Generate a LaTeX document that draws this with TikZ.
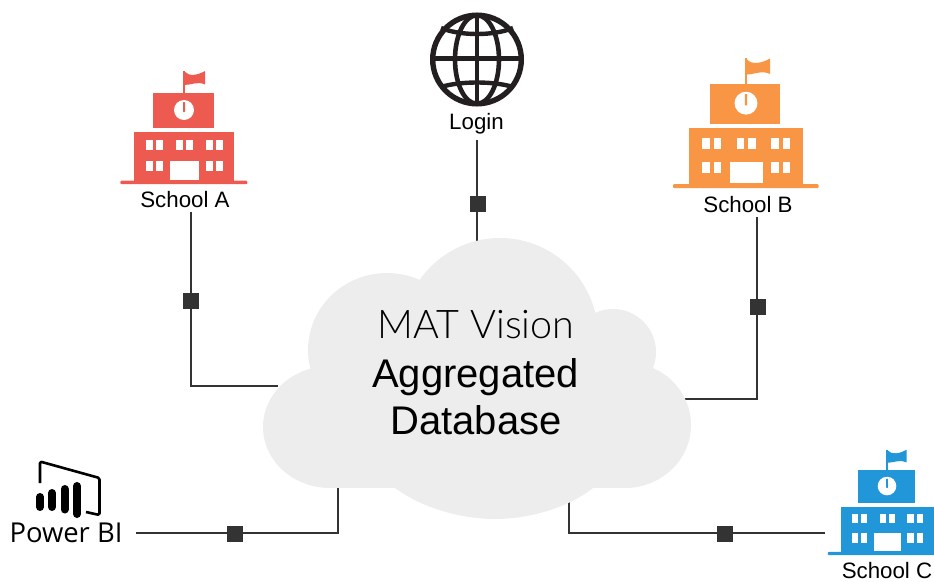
\documentclass[tikz,border=0pt]{standalone}
\usepackage{fontspec}
\setmainfont{Liberation Sans}
\newfontfamily\lightfont{Lato Light}
\newfontfamily\pbifont{Open Sans}
\definecolor{schoolA}{HTML}{EC5A50}
\definecolor{schoolB}{HTML}{F99645}
\definecolor{schoolC}{HTML}{2196D8}
\definecolor{cloudgrey}{HTML}{EDEDED}
\definecolor{linedark}{HTML}{333333}
\definecolor{globeink}{HTML}{231F20}
\tikzset{
  link/.style={draw=linedark,line width=2.7pt},
  stopmark/.style={fill=linedark,draw=none,minimum size=16pt,inner sep=0pt,rectangle},
  lobe/.style={fill=cloudgrey,draw=none},
  caption/.style={anchor=base,font=\fontsize{22.3}{24}\selectfont,text=black,inner sep=0pt},
  cloudtext/.style={anchor=base,text=black,inner sep=0pt},
}
\newcommand{\schoolpic}[4]{%
  \begin{scope}[shift={(#1,#2)},x=#3pt,y=-#3pt]
    \fill[#4,rounded corners=1pt] (-63.7,-1.3) rectangle (63.3,2.2);
    \fill[#4] (-50,-50) rectangle (50,0);
    \fill[#4] (-31,-89) rectangle (30,-54);
    \fill[#4] (-1.2,-111) rectangle (0.8,-88);
    \fill[#4] (0.5,-110.5) .. controls (5,-105) and (14,-107) .. (21,-111) -- (21,-97.5) .. controls (14,-101) and (7,-97) .. (0.5,-97) -- cycle;
    \fill[white] (0,-72) circle (10);
    \fill[#4,rounded corners=0.6pt] (-1,-80) rectangle (1,-70);
    \foreach \wx/\wy in {-38/-42,-28/-42,-8/-42,2/-42,22/-42,32/-42,-38/-21,-28/-21,22/-21,32/-21}
      \fill[white] (\wx,\wy) rectangle ++(6.6,10);
    \fill[white] (-14,-21) rectangle (15,-2);
  \end{scope}}
\begin{document}
\begin{tikzpicture}[x=1pt,y=-1pt]
\useasboundingbox (0,0) rectangle (934,581);
% anchors
\coordinate (cloudA) at (278,386);
\coordinate (cloudB) at (685,399);
\coordinate (cloudL) at (477,245);
\coordinate (cloudP) at (338,485);
\coordinate (cloudC) at (569,500);
\coordinate (turnA) at (191,386);
\coordinate (turnB) at (757,399);
\coordinate (turnP) at (338,533);
\coordinate (turnC) at (569,533);
% labels
\node[caption] (lblA) at (185,207) {School A};
\node[caption] (lblB) at (748,212) {School B};
\node[caption] (lblC) at (887,578) {School C};
\node[caption] (lblL) at (476.5,129) {Login};
\node[anchor=base,inner sep=0pt,font=\pbifont\fontsize{27.4}{30}\selectfont] (lblP) at (66,542) {Power BI};
\coordinate (startA) at (191,212);
\coordinate (startB) at (757,217);
\coordinate (startL) at (477,140);
\coordinate (startP) at (136,533);
\coordinate (startC) at (825,533);
% connectors
\draw[link] (startA) -- (turnA) -- (cloudA);
\draw[link] (startB) -- (turnB) -- (cloudB);
\draw[link] (startL) -- (cloudL);
\draw[link] (startP) -- (turnP) -- (cloudP);
\draw[link] (startC) -- (turnC) -- (cloudC);
\node[stopmark] (mA) at (190.5,301) {};
\node[stopmark] (mB) at (757.5,307) {};
\node[stopmark] (mL) at (477.5,203.5) {};
\node[stopmark] (mP) at (235,534) {};
\node[stopmark] (mC) at (725,534) {};
% cloud
\fill[lobe] (330,427) ellipse [x radius=67,y radius=61];
\fill[lobe] (387,350) ellipse [x radius=79,y radius=77];
\fill[lobe] (500,336) circle (98);
\fill[lobe] (613,352) circle (43);
\fill[lobe] (625,425) ellipse [x radius=66,y radius=63];
\fill[lobe] (330,400) rectangle (625,488);
\fill[lobe] (395,488) .. controls (425,510) and (465,519) .. (495,519) .. controls (525,519) and (565,510) .. (593,488) -- cycle;
\node[cloudtext,font=\lightfont\fontsize{39.5}{44}\selectfont] (cloudT1) at (476,338) {MAT Vision};
\node[cloudtext,font=\fontsize{40}{44}\selectfont] (cloudT2) at (475.5,387) {Aggregated};
\node[cloudtext,font=\fontsize{40}{44}\selectfont] (cloudT3) at (476,434) {Database};
% schools
\schoolpic{184}{182}{1}{schoolA}
\schoolpic{746}{185.7}{1.146}{schoolB}
\schoolpic{887}{553}{0.93}{schoolC}
% globe
\begin{scope}[draw=globeink]
  \draw[line width=5.4pt] (477,59.5) circle (44.3);
  \draw[line width=4.6pt] (477,59.5) ellipse [x radius=22,y radius=44.3];
  \draw[line width=4.6pt] (477,15) -- (477,104);
  \draw[line width=4.6pt] (433,58.5) -- (521,58.5);
  \draw[line width=4.4pt] (441,28) .. controls (460,36) and (494,36) .. (513,28);
  \draw[line width=4.4pt] (441,87) .. controls (460,81) and (494,81) .. (513,87);
\end{scope}
% power bi icon
\draw[black,line width=2.6pt,line join=round,rounded corners=1.5pt] (40,483) -- (40,461.5) -- (99.5,478) -- (99.5,515) -- (86,512);
\foreach \bx/\bt/\bb in {40/493/511,52/489/511,64.5/485/513.5,77/482/518}
  \draw[black,line width=8pt,line cap=round] (\bx,\bt+4) -- (\bx,\bb-4);
\end{tikzpicture}
\end{document}
